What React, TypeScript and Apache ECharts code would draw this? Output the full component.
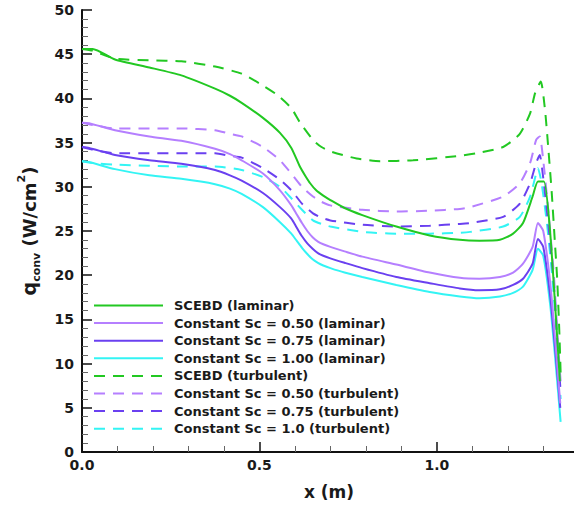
import React, { useEffect, useRef } from 'react';
import * as echarts from 'echarts';

const seriesNames = [
  'SCEBD (laminar)',
  'Constant Sc = 0.50 (laminar)',
  'Constant Sc = 0.75 (laminar)',
  'Constant Sc = 1.00 (laminar)',
  'SCEBD (turbulent)',
  'Constant Sc = 0.50 (turbulent)',
  'Constant Sc = 0.75 (turbulent)',
  'Constant Sc = 1.0 (turbulent)',
];

const seriesColors = ['#22c822', '#b57fff', '#6a40f0', '#33f4f4', '#22c822', '#b57fff', '#6a40f0', '#33f4f4'];

const scebdLaminar = [
  [0, 45.6], [0.03, 45.6], [0.093, 44.4], [0.19, 43.5], [0.28, 42.6], [0.375, 41.1], [0.417, 40.3],
  [0.45, 39.5], [0.51, 37.8], [0.558, 36.1], [0.59, 34.4], [0.614, 32.3], [0.63, 31.2], [0.643, 30.4],
  [0.66, 29.6], [0.68, 29.0], [0.7, 28.5], [0.74, 27.6], [0.79, 26.8], [0.886, 25.5], [0.98, 24.5],
  [1.065, 24.0], [1.12, 23.9], [1.178, 24.0], [1.215, 24.7], [1.243, 25.9], [1.27, 28.9], [1.285, 30.6],
  [1.302, 30.6], [1.319, 25.1], [1.338, 13.8], [1.347, 8.0],
];

const sc050Laminar = [
  [0, 37.25], [0.02, 37.2], [0.093, 36.4], [0.19, 35.7], [0.28, 35.2], [0.375, 34.3], [0.417, 33.7],
  [0.45, 33.0], [0.51, 31.5], [0.558, 29.6], [0.59, 27.9], [0.605, 26.9], [0.62, 25.9], [0.635, 25.0],
  [0.65, 24.3], [0.665, 23.8], [0.68, 23.5], [0.7, 23.2], [0.74, 22.7], [0.79, 22.1], [0.886, 21.2],
  [0.98, 20.3], [1.065, 19.7], [1.12, 19.6], [1.178, 19.8], [1.215, 20.3], [1.243, 21.3], [1.27, 23.2],
  [1.285, 25.9], [1.3, 25.0], [1.32, 19], [1.335, 12], [1.348, 5.5],
];

const sc075Laminar = [
  [0, 34.5], [0.02, 34.4], [0.093, 33.6], [0.19, 33.0], [0.28, 32.6], [0.375, 31.9], [0.417, 31.3],
  [0.45, 30.7], [0.51, 29.3], [0.558, 27.7], [0.59, 26.4], [0.605, 25.4], [0.62, 24.4], [0.635, 23.6],
  [0.65, 23.0], [0.665, 22.5], [0.68, 22.2], [0.7, 21.9], [0.74, 21.4], [0.79, 20.8], [0.886, 19.8],
  [0.98, 19.1], [1.065, 18.5], [1.12, 18.3], [1.178, 18.4], [1.215, 18.9], [1.243, 19.6], [1.27, 21.3],
  [1.285, 24.1], [1.3, 23.2], [1.32, 17.5], [1.335, 11], [1.348, 5],
];

const sc100Laminar = [
  [0, 32.9], [0.02, 32.8], [0.093, 32.0], [0.19, 31.3], [0.28, 30.9], [0.375, 30.3], [0.417, 29.8],
  [0.45, 29.2], [0.51, 27.7], [0.558, 26.0], [0.59, 24.7], [0.605, 23.9], [0.62, 23.1], [0.635, 22.4],
  [0.65, 21.8], [0.665, 21.4], [0.68, 21.1], [0.7, 20.8], [0.74, 20.3], [0.79, 19.8], [0.886, 18.9],
  [0.98, 18.1], [1.065, 17.6], [1.12, 17.4], [1.178, 17.6], [1.215, 18.0], [1.243, 18.7], [1.27, 20.6],
  [1.285, 23.0], [1.3, 22.2], [1.32, 16.5], [1.335, 10], [1.349, 3.4],
];

const scebdTurbulent = [
  [0, 45.6], [0.03, 45.4], [0.093, 44.5], [0.19, 44.3], [0.28, 44.2], [0.375, 43.6], [0.45, 42.8],
  [0.5, 41.7], [0.55, 40.4], [0.59, 38.9], [0.614, 37.3], [0.651, 35.3], [0.675, 34.5], [0.7, 34.0],
  [0.774, 33.2], [0.84, 32.9], [0.933, 33.0], [1.065, 33.5], [1.113, 33.8], [1.187, 34.5], [1.234, 36.0],
  [1.263, 38.3], [1.277, 40.6], [1.293, 41.9], [1.305, 38.7], [1.313, 35.0], [1.324, 29.3], [1.333, 23.6],
  [1.339, 19.8], [1.345, 14], [1.349, 9],
];

const sc050Turbulent = [
  [0, 37.25], [0.03, 37.0], [0.093, 36.6], [0.28, 36.6], [0.375, 36.4], [0.417, 36.0], [0.45, 35.7],
  [0.51, 34.5], [0.558, 33.0], [0.59, 31.5], [0.62, 30.0], [0.651, 28.9], [0.675, 28.3], [0.7, 27.9],
  [0.79, 27.4], [0.886, 27.2], [0.98, 27.3], [1.065, 27.5], [1.094, 27.7], [1.187, 28.9], [1.234, 30.4],
  [1.263, 32.7], [1.28, 35.3], [1.29, 35.7], [1.3, 33], [1.315, 27], [1.33, 20], [1.342, 12], [1.349, 8],
];

const sc075Turbulent = [
  [0, 34.5], [0.03, 34.2], [0.093, 33.8], [0.375, 33.8], [0.417, 33.5], [0.45, 33.3], [0.51, 32.1],
  [0.558, 30.8], [0.59, 29.6], [0.62, 28.1], [0.651, 27.0], [0.675, 26.5], [0.7, 26.2], [0.79, 25.7],
  [0.886, 25.5], [0.98, 25.6], [1.065, 25.8], [1.094, 25.9], [1.187, 26.6], [1.234, 28.1], [1.263, 30.4],
  [1.28, 32.7], [1.29, 33.6], [1.3, 31], [1.315, 25.5], [1.33, 19], [1.342, 11], [1.349, 6.8],
];

const sc100Turbulent = [
  [0, 32.9], [0.03, 32.7], [0.093, 32.5], [0.28, 32.3], [0.375, 32.3], [0.45, 31.9], [0.51, 31.1],
  [0.558, 30.0], [0.59, 28.7], [0.62, 27.4], [0.651, 26.2], [0.675, 25.8], [0.7, 25.5], [0.79, 24.9],
  [0.886, 24.7], [0.98, 24.7], [1.065, 24.8], [1.094, 24.9], [1.187, 25.5], [1.234, 26.6], [1.263, 28.9],
  [1.28, 31.5], [1.285, 32.1], [1.295, 30.5], [1.31, 26], [1.325, 20], [1.34, 12], [1.349, 6],
];

const seriesData = [
  scebdLaminar, sc050Laminar, sc075Laminar, sc100Laminar,
  scebdTurbulent, sc050Turbulent, sc075Turbulent, sc100Turbulent,
];

const xTitle = 'x (m)';
const FONT = 'DejaVu Sans';
const TEXT = '#1a1a1a';

export default function App() {
  const ref = useRef<HTMLDivElement>(null);
  useEffect(() => {
    const chart = echarts.init(ref.current!, null, { renderer: 'svg' });
    const series = seriesData.map((d, i) => ({
      name: seriesNames[i],
      type: 'line',
      data: d,
      symbol: 'none',
      smooth: 0.2,
      z: 10 - i,
      lineStyle: {
        color: seriesColors[i],
        width: 2,
        type: i >= 4 ? [11, 8] : 'solid',
      },
      itemStyle: { color: seriesColors[i] },
    }));
    chart.setOption({
      animation: false,
      backgroundColor: '#ffffff',
      grid: { left: 82, top: 10, bottom: 55, right: 640 - (82 + 1.5 * 354.8) },
      legend: {
        orient: 'vertical',
        left: 93,
        top: 299,
        padding: 0,
        itemWidth: 69,
        itemHeight: 14,
        itemGap: 4.6,
        selectedMode: false,
        data: seriesNames,
        itemStyle: { opacity: 0 },
        textStyle: {
          fontFamily: FONT,
          fontWeight: 'bold',
          fontSize: 13,
          color: TEXT,
          padding: [0, 0, 0, 6],
        },
      },
      xAxis: {
        type: 'value',
        min: 0,
        max: 1.5,
        interval: 0.5,
        axisLine: { show: true, onZero: false, lineStyle: { color: '#111', width: 2 } },
        axisTick: { show: true, inside: true, length: 10, lineStyle: { color: '#111', width: 1.5 } },
        minorTick: { show: true, splitNumber: 5, length: 6, lineStyle: { color: '#666', width: 1 } },
        splitLine: { show: false },
        axisLabel: {
          formatter: (v: number) => v.toFixed(1),
          showMaxLabel: false,
          fontFamily: FONT,
          fontWeight: 'bold',
          fontSize: 14,
          color: TEXT,
          margin: 6,
        },
      },
      yAxis: {
        type: 'value',
        min: 0,
        max: 50,
        interval: 5,
        axisLine: { show: true, onZero: false, lineStyle: { color: '#111', width: 2 } },
        axisTick: { show: true, inside: true, length: 10, lineStyle: { color: '#111', width: 1.5 } },
        minorTick: { show: true, splitNumber: 5, length: 6, lineStyle: { color: '#666', width: 1 } },
        splitLine: { show: false },
        axisLabel: {
          fontFamily: FONT,
          fontWeight: 'bold',
          fontSize: 14,
          color: TEXT,
          margin: 8,
        },
      },
      graphic: [
        {
          type: 'text',
          x: 329,
          y: 492,
          style: {
            text: xTitle,
            align: 'center',
            verticalAlign: 'middle',
            fontFamily: FONT,
            fontWeight: 'bold',
            fontSize: 17,
            fill: TEXT,
          },
        },
        {
          type: 'text',
          x: 29,
          y: 231,
          rotation: Math.PI / 2,
          style: {
            text: '{q|q}{sub|conv}{n| (W/cm}{sup|2}{n|)}',
            align: 'center',
            verticalAlign: 'middle',
            rich: {
              q: { fontFamily: FONT, fontWeight: 'bold', fontSize: 19, lineHeight: 26, fill: TEXT, color: TEXT },
              n: { fontFamily: FONT, fontWeight: 'bold', fontSize: 18, lineHeight: 26, fill: TEXT, color: TEXT },
              sub: { fontFamily: FONT, fontWeight: 'bold', fontSize: 11, lineHeight: 12, verticalAlign: 'bottom', fill: TEXT, color: TEXT },
              sup: { fontFamily: FONT, fontWeight: 'bold', fontSize: 11, lineHeight: 13, verticalAlign: 'top', fill: TEXT, color: TEXT },
            },
          },
        },
      ],
      series,
    });
    return () => chart.dispose();
  }, []);
  return <div ref={ref} style={{ position: 'fixed', left: 0, top: 0, width: 640, height: 507 }} />;
}
